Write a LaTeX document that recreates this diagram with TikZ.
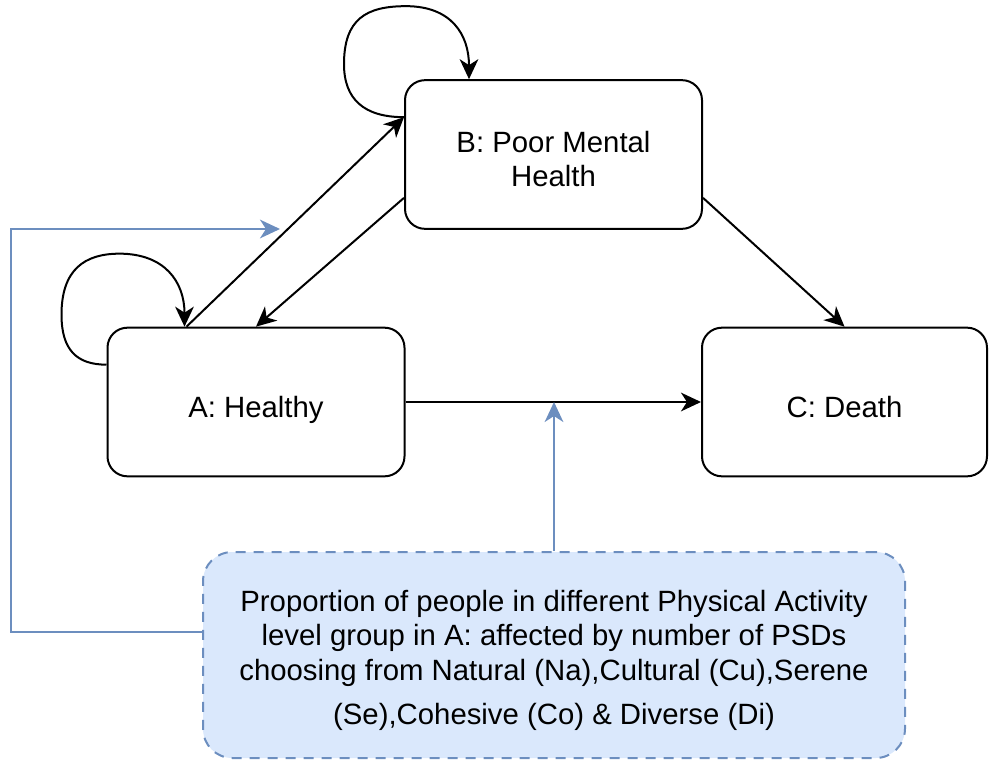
\documentclass[tikz,border=0pt]{standalone}
\usepackage{fontspec}
\setmainfont{Liberation Sans}
\usetikzlibrary{arrows.meta,calc}
\definecolor{linkblue}{HTML}{6C8EBF}
\definecolor{boxblue}{HTML}{DAE8FC}

\begin{document}
\begin{tikzpicture}[x=0.75pt, y=-0.75pt,
    statebox/.style={draw, line width=1.5pt, rounded corners=15pt,
        minimum width=222.75pt, minimum height=111.5pt, inner sep=0pt,
        text height=23pt, text depth=0pt,
        align=center, font=\fontsize{22}{26}\selectfont},
    notebox/.style={draw=linkblue, fill=boxblue, line width=1.5pt,
        dash pattern=on 7.5pt off 6pt, rounded corners=22pt,
        minimum width=526.5pt, minimum height=154.5pt, inner sep=0pt,
        text height=104pt, text depth=0pt,
        align=center, font=\fontsize{22}{26}\selectfont},
    flow/.style={line width=1.5pt, -{Stealth[length=15pt, width=14pt, inset=4.5pt]}},
    effect/.style={draw=linkblue, line width=1.5pt,
        -{Stealth[length=15pt, width=14pt, inset=4.5pt]}}]

        \useasboundingbox (0,0) rectangle (989,760);

        \node[statebox, text height=48.5pt] (B) at (553.5,154.5) {B: Poor Mental\\Health};
        \node[statebox] (A) at (256,402) {A: Healthy};
        \node[statebox, minimum width=213.75pt] (C) at (844.5,402) {C: Death};
        \node[notebox] (P) at (554,655)
            {Proportion of people in different Physical Activity\\
             level group in A: affected by number of PSDs\\
             choosing from Natural (Na),Cultural (Cu),Serene\\[7pt]
             (Se),Cohesive (Co) \& Diverse (Di)};

        \draw[flow]
            ($(A.north west)+(80,0)$) -- ($(B.north west)+(0,38)$);
        \draw[flow]
            ($(B.south west)+(0,-32)$) -- (A.north);
        \draw[flow]
            ($(B.south east)+(0,-32)$) -- (C.north);
        \draw[flow]
            (A.east) -- (C.west);

        \draw[flow]
            ($(B.north west)+(0,38)$) .. controls +(-40,0) and +(0,35) ..
            ($(B.north west)+(-60,-15)$) .. controls +(0,-45) and +(-40,0) ..
            ($(B.north west)+(2,-73)$) .. controls +(45,0) and +(0,-45) ..
            ($(B.north west)+(65,0)$);
        \draw[flow]
            ($(A.north west)+(0,38)$) .. controls +(-30,0) and +(0,35) ..
            ($(A.north west)+(-45,-12)$) .. controls +(0,-45) and +(-35,0) ..
            ($(A.north west)+(13,-73)$) .. controls +(45,0) and +(0,-45) ..
            ($(A.north west)+(78,0)$);

        \coordinate (hit) at (280,229);
        \draw[effect]
            ($(P.west)+(0,-23)$) -- ++(-191,0) |- (hit);
        \draw[effect]
            (P.north) -- (P.north |- A.east);

    \end{tikzpicture}
\end{document}
